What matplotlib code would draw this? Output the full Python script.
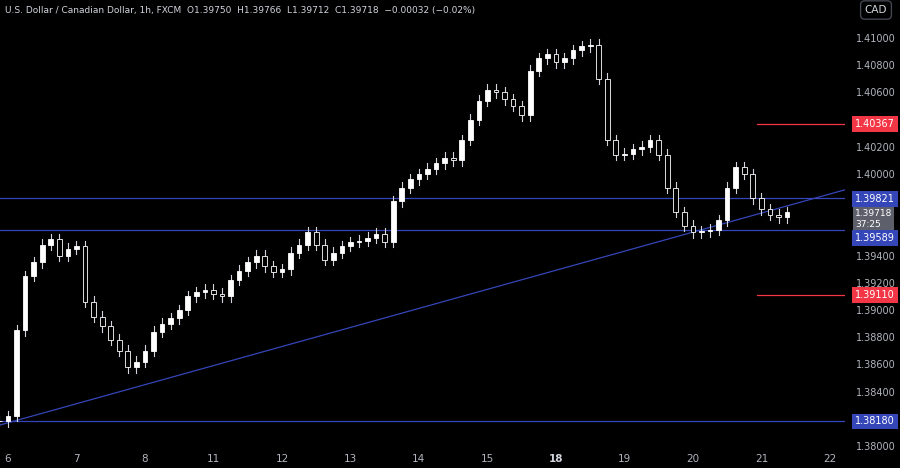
import numpy as np
import matplotlib
matplotlib.use("Agg")
import matplotlib.pyplot as plt
from matplotlib.patches import Rectangle

closes = [1.3818,1.3822,1.3885,1.3925,1.3935,1.3948,1.3952,1.3940,1.3945,1.3947,1.3906,1.3895,1.3888,1.3878,1.3870,
1.3858,1.3862,1.3870,1.3884,1.3890,1.3894,1.3900,1.3910,1.3913,1.3915,1.3912,1.3910,1.3922,1.3929,1.3935,1.3940,
1.3932,1.3928,1.3930,1.3942,1.3948,1.3957,1.3948,1.3937,1.3942,1.3947,1.3950,1.3951,1.3953,1.3956,1.3950,1.3980,
1.3990,1.3996,1.4000,1.4004,1.4008,1.4012,1.4010,1.4025,1.4040,1.4054,1.4062,1.4060,1.4055,1.4050,1.4043,1.4076,
1.4085,1.4088,1.4082,1.4085,1.4091,1.4094,1.4095,1.4070,1.4025,1.4014,1.4015,1.4018,1.4020,1.4025,1.4014,1.3990,
1.3972,1.3962,1.3957,1.3958,1.3959,1.3966,1.3990,1.4005,1.4000,1.3982,1.3974,1.3970,1.3968,1.3972]
start_hour = -3
step_hours = 3
day_labels = ["6","7","8","11","12","13","14","15","18","19","20","21","22"]
day_hours = [0,24,48,72,96,120,144,168,192,216,240,264,288]
blue_levels = [1.39821, 1.39589, 1.38180]
red_levels = [1.40367, 1.39110]
trend_pts = ([-2.8, 296.8], [1.38154, 1.39904])
last_price = "1.39718"

BG = "#000000"; TXT = "#b2b5be"; BLUE = "#3446b8"; RED = "#f23645"
fig = plt.figure(figsize=(9, 4.68), dpi=100, facecolor=BG)
ax = fig.add_axes([0, 20/468, 845/900, 448/468], facecolor=BG)
ax.set_xlim(-2.8, 293.3)
ax.set_ylim(1.37985, 1.41279)

t = start_hour + step_hours*np.arange(len(closes))
opens = [closes[0]] + closes[:-1]
w = step_hours*0.55
for ti, o, c in zip(t, opens, closes):
    hi = max(o, c) + 0.0004; lo = min(o, c) - 0.0004
    ax.plot([ti, ti], [lo, hi], color="#d1d4dc", lw=0.8, zorder=2)
    up = c >= o
    h = max(abs(c-o), 0.00005)
    ax.add_patch(Rectangle((ti-w/2, min(o, c)), w, h, facecolor="#ffffff" if up else "#000000",
                           edgecolor="#ffffff", lw=0.6, zorder=3))

for lv in blue_levels:
    ax.axhline(lv, color=BLUE, lw=0.9, zorder=1)
for lv in red_levels:
    ax.plot([262.4, 293.3], [lv, lv], color=RED, lw=0.9)
ax.plot(trend_pts[0], trend_pts[1], color=BLUE, lw=0.9, zorder=1)

yt = np.arange(1.380, 1.4101, 0.002)
ax.set_yticks(yt)
ax.set_yticklabels([f"{v:.5f}" for v in yt])
ax.yaxis.tick_right()
ax.tick_params(axis="y", colors=TXT, labelsize=7, length=0, pad=8)
ax.set_xticks(day_hours)
ax.set_xticklabels(day_labels)
ax.tick_params(axis="x", colors=TXT, labelsize=7.5, length=0, pad=4)
for lab in ax.get_xticklabels():
    if lab.get_text() == "18": lab.set_fontweight("bold"); lab.set_color("#d1d4dc")
for s in ax.spines.values(): s.set_visible(False)

tr = ax.get_yaxis_transform()
def box(y, txt, col, fs=7, z=10, pad=0.3):
    ax.text(1.0 + 10/845, y, txt, transform=tr, color="white", fontsize=fs, va="center", ha="left",
            linespacing=1.25, bbox=dict(boxstyle=f"square,pad={pad}", fc=col, ec="none"), zorder=z, clip_on=False)
box(1.40367, "1.40367", RED)
box(1.39110, "1.39110", RED)
box(1.38180, "1.38180", BLUE)
box(1.39669, last_price + "\n37:25", "#5d606b", 6.5, 9, 0.2)
box(1.39816, "1.39821", BLUE)
box(1.39530, "1.39589", BLUE)
fig.text(876/900, 1-10/468, "CAD", color="#d1d4dc", fontsize=7.5, ha="center", va="center",
         bbox=dict(boxstyle="round,pad=0.4", fc=BG, ec="#434651"))
fig.text(5/900, 1-10/468, "U.S. Dollar / Canadian Dollar, 1h, FXCM  O1.39750  H1.39766  L1.39712  C1.39718  \u22120.00032 (\u22120.02%)",
         color="#d1d4dc", fontsize=6.5, ha="left", va="center")
fig.savefig("out.png", dpi=100, facecolor=BG)
